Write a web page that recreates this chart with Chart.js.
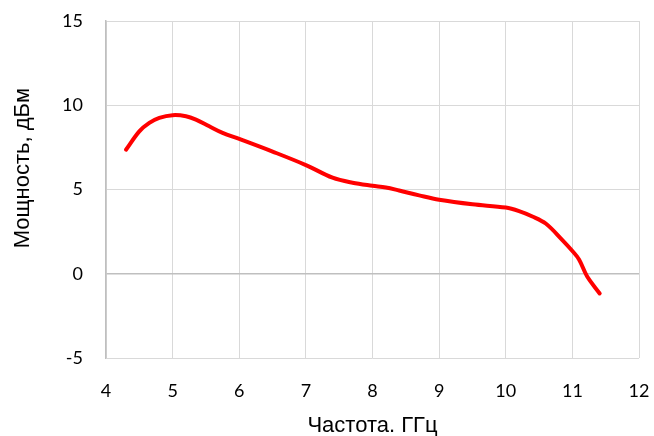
<!DOCTYPE html>
<html>
<head>
<meta charset="utf-8">
<script src="https://cdn.jsdelivr.net/npm/chart.js@4"></script>
<style>
  html,body{margin:0;padding:0;background:#fff;}
  #wrap{width:654px;height:436px;position:relative;}
</style>
</head>
<body>
<div id="wrap"><canvas id="c"></canvas></div>
<script>
// ── Data ───────────────────────────────────────────────────────────────────
const freqGHz  = [4.3, 4.5, 4.65, 4.8, 5.0, 5.2, 5.35, 5.55, 5.75, 6.0, 6.5, 7.0, 7.4, 7.7, 8.0, 8.2, 8.4, 8.7, 9.0, 9.5, 10.0, 10.2, 10.4, 10.6, 10.85, 11.0, 11.1, 11.22, 11.41];
const powerDbm = [7.36, 8.45, 8.95, 9.25, 9.41, 9.35, 9.15, 8.75, 8.36, 8.0, 7.25, 6.45, 5.7, 5.4, 5.22, 5.12, 4.94, 4.65, 4.39, 4.12, 3.93, 3.72, 3.4, 2.98, 2.0, 1.35, 0.85, -0.15, -1.17];

const xTicks = [4, 5, 6, 7, 8, 9, 10, 11, 12];
const yTicks = [-5, 0, 5, 10, 15];

const xTitle = 'Частота. ГГц';
const yTitle = 'Мощность, дБм';

const TICK_FONT  = {family:'Lato, "Open Sans", sans-serif', size:18};
const TITLE_FONT = {family:'"Liberation Sans Narrow", "Arial Narrow", "Liberation Sans", sans-serif', size:22};

const points = freqGHz.map((f,i)=>({x:f, y:powerDbm[i]}));

new Chart(document.getElementById('c').getContext('2d'), {
  type:'line',
  data:{datasets:[{
    data:points, borderColor:'#ff0000', borderWidth:4, pointRadius:0,
    tension:0.35, fill:false, borderCapStyle:'round', borderJoinStyle:'round'
  }]},
  options:{
    responsive:true, maintainAspectRatio:false, animation:false,
    layout:{padding:{top:21, right:15, bottom:0, left:0}},
    plugins:{legend:{display:false}, tooltip:{enabled:false}},
    scales:{
      x:{
        type:'linear', min:4, max:12,
        afterBuildTicks:s=>{ s.ticks = xTicks.map(v=>({value:v})); },
        afterFit:s=>{ s.height = 78; s.paddingLeft = 0; s.paddingRight = 0; },
        grid:{color:'#d9d9d9', lineWidth:1, drawTicks:false},
        border:{display:false},
        ticks:{color:'#000', font:TICK_FONT, padding:22, maxRotation:0},
        title:{display:true, text:xTitle, color:'#000', font:TITLE_FONT, padding:{top:0,bottom:-3}}
      },
      y:{
        min:-5, max:15,
        afterBuildTicks:s=>{ s.ticks = yTicks.map(v=>({value:v})); },
        afterFit:s=>{ s.width = 106; s.paddingTop = 0; s.paddingBottom = 0; },
        grid:{color:c=>c.tick && c.tick.value===0 ? '#bfbfbf' : '#d9d9d9', lineWidth:c=>c.tick && c.tick.value===0 ? 1.5 : 1, drawTicks:false},
        border:{display:true, color:'#bfbfbf', width:1.5},
        ticks:{color:'#000', font:TICK_FONT, padding:23},
        // leading spaces lift the title a little above the plot centre, as in the original
        title:{display:true, text:' '.repeat(7)+yTitle, color:'#000', font:TITLE_FONT, padding:{top:10,bottom:0}}
      }
    }
  }
});
</script>
</body>
</html>
